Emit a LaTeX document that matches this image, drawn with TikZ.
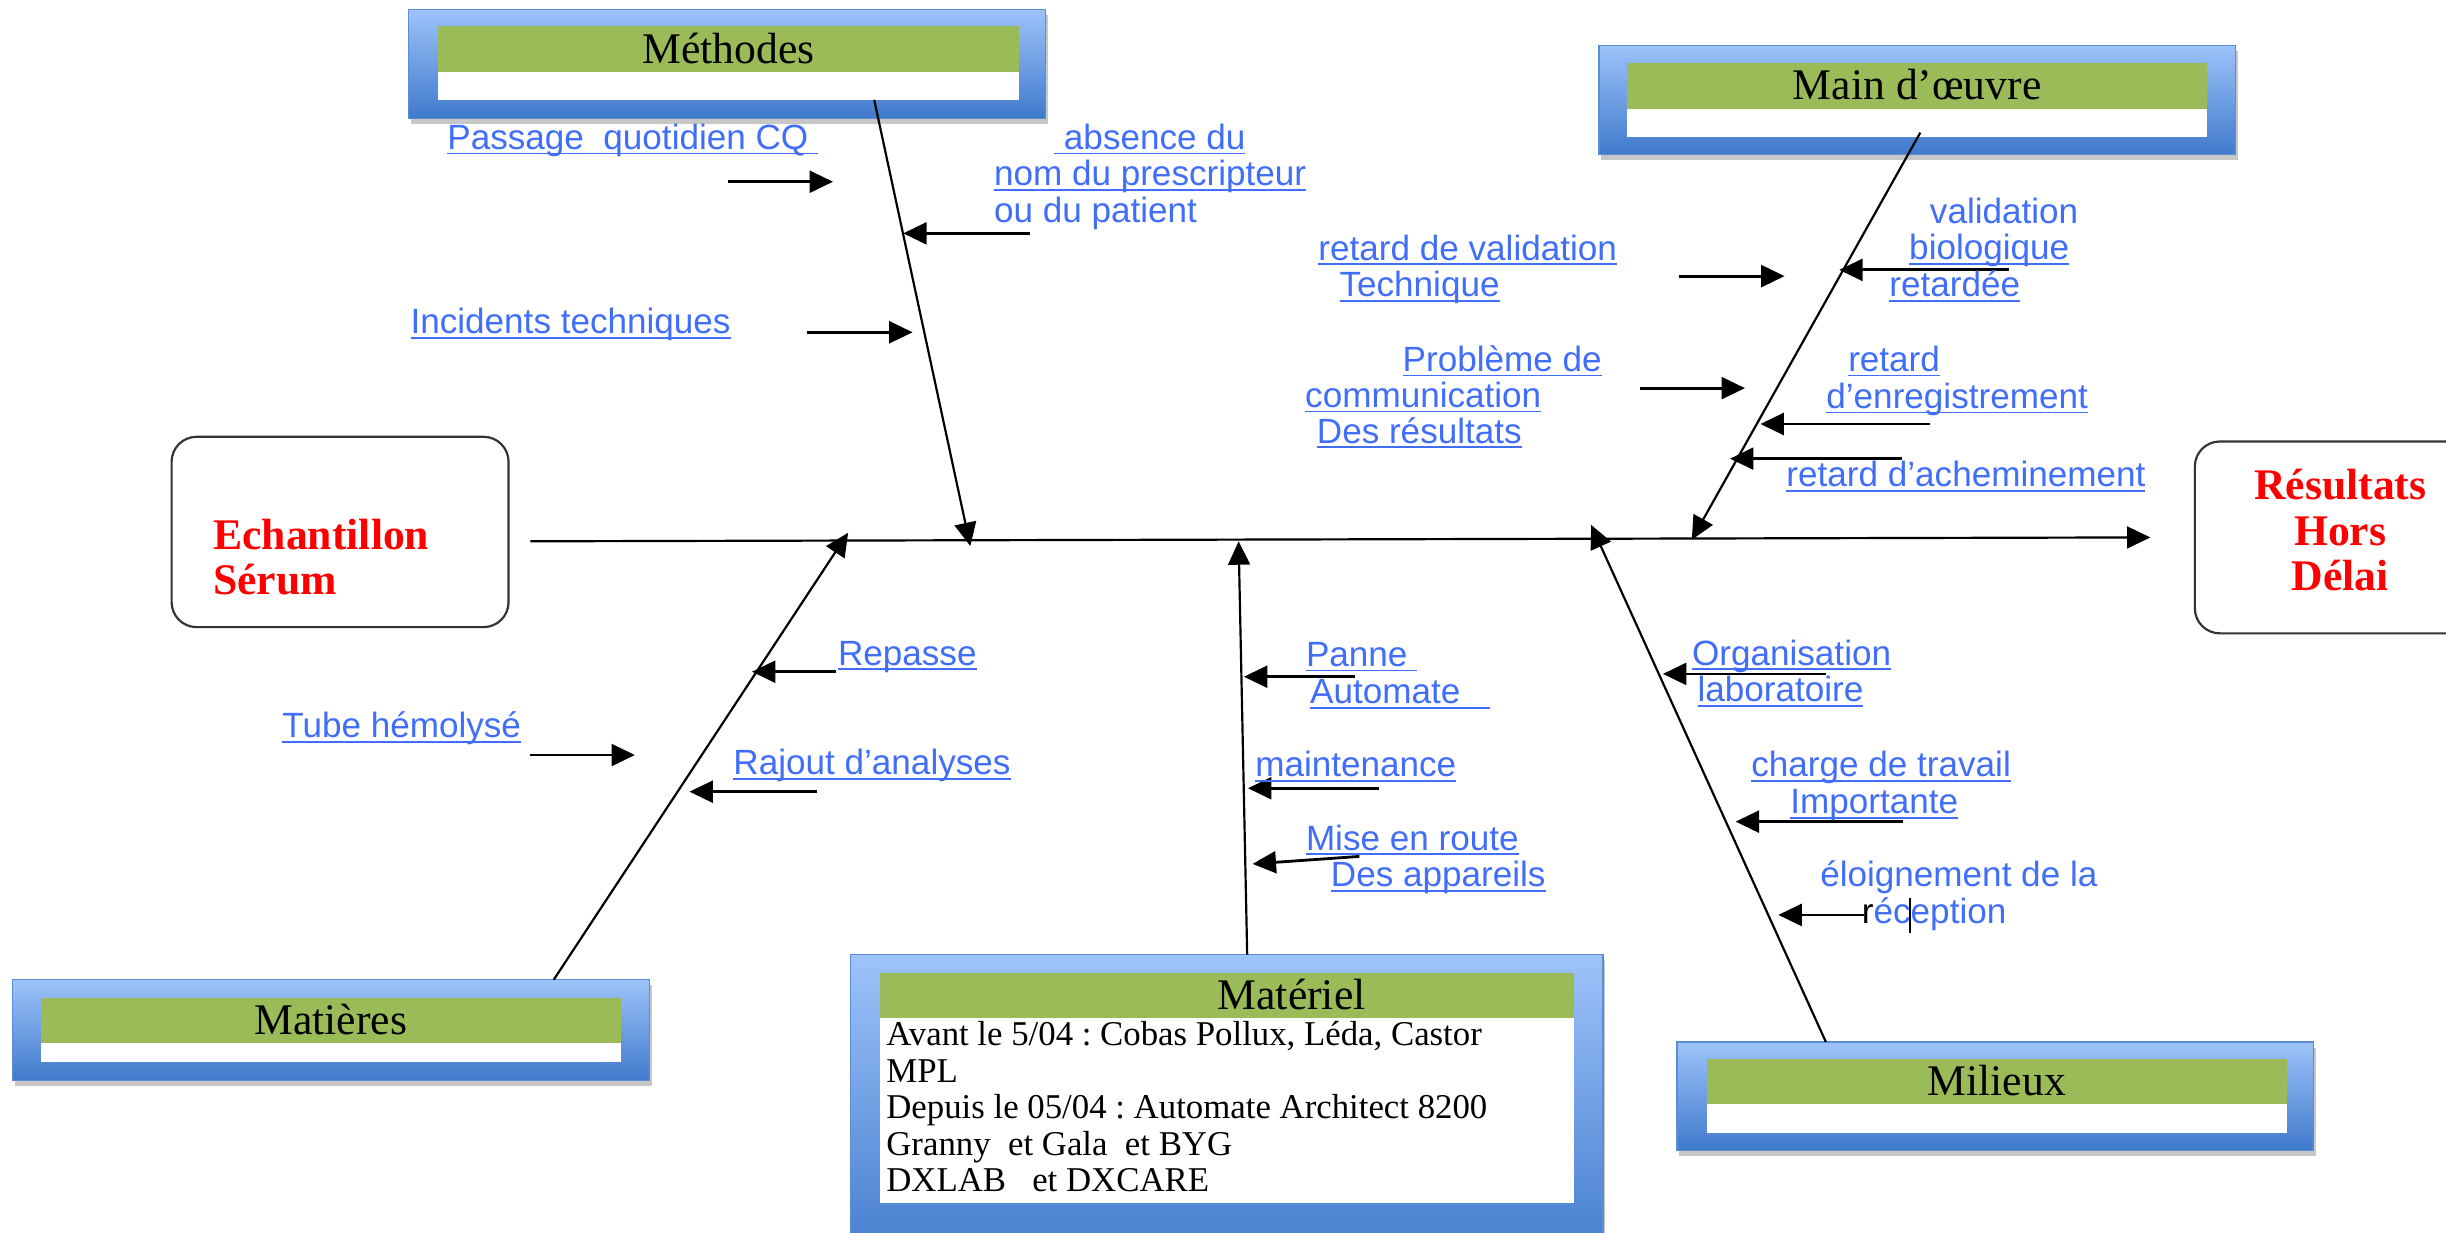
\documentclass[tikz,border=0pt]{standalone}
\usepackage{fontspec}
\setmainfont{Liberation Serif}
\newfontfamily\arial{Liberation Sans}
\usetikzlibrary{arrows.meta}
\frenchspacing

\definecolor{lnkblue}{RGB}{64,110,250}
\definecolor{hdgreen}{RGB}{155,187,89}
\definecolor{frTop}{RGB}{157,195,250}
\definecolor{frBot}{RGB}{64,122,204}
\definecolor{frEdge}{RGB}{92,140,210}
\definecolor{alert}{RGB}{255,0,0}

% underlined text, the rule keeps the current colour
\newcommand\ul[1]{\setbox0=\hbox{#1}\rlap{\rule[-3.3pt]{\wd0}{1.1pt}}\box0}
% stacked lines, baseline of the block = baseline of its first line
\newcommand\lines[2]{\vtop{\baselineskip=#1\lineskiplimit=-30pt\lineskip=0pt #2}}
% category frame: outer x1,y1,x2,y2 ; inner x1,y1,x2 ; green bottom ; white bottom
\newcommand\catbox[9]{%
  \fill[black!22] (#1+1.5,#2+3.5) rectangle (#3+1.5,#4+3.5);
  \shade[top color=frTop, bottom color=frBot] (#1,#2) rectangle (#3,#4);
  \draw[frEdge, line width=0.8pt] (#1,#2) rectangle (#3,#4);
  \fill[white] (#5,#6) rectangle (#7,#9);
  \fill[hdgreen] (#5,#6) rectangle (#7,#8);
}
% small cause arrow between two named coordinates
\newcommand\twig[3]{\coordinate (#1-s) at (#2); \coordinate (#1-e) at (#3); \draw[twig] (#1-s) -- (#1-e);}

\begin{document}
\begin{tikzpicture}[x=1pt,y=-1pt,
  bone/.style={line width=1.4pt, -{Triangle[length=15pt,width=14pt]}},
  twig/.style={line width=1.8pt, -{Triangle[length=15pt,width=14pt]}},
  lbl/.style={anchor=base west, inner sep=0pt, text=lnkblue, font=\arial\fontsize{22.5}{23.5}\selectfont},
  ttl/.style={anchor=base, inner sep=0pt, font=\fontsize{28}{29}\selectfont},
  effect/.style={anchor=base west, inner sep=0pt, text=alert, font=\bfseries\fontsize{28}{29}\selectfont},
  endbox/.style={draw=black!80, line width=1.4pt, rounded corners=16pt, inner sep=0pt},
]
\useasboundingbox (0,0) rectangle (1568,790);
\clip (0,0) rectangle (1568,790);

% category frames
\catbox{262}{6}{670}{76}{281}{16.7}{653}{46}{64}
\catbox{1025}{29}{1433}{99}{1043}{40.5}{1415}{70}{88}
\catbox{8}{628}{416.5}{692.7}{26.6}{639.5}{398}{668.6}{681}
\catbox{1075}{668}{1483}{737.6}{1094}{679}{1466}{708}{726}
\catbox{545}{612}{1027.6}{815}{564}{624}{1009}{652.6}{771}

\node[ttl] (h-meth) at (467,40.5) {Méthodes};
\node[ttl] (h-main) at (1229,64) {Main d’œuvre};
\node[ttl] (h-mat) at (212,663) {Matières};
\node[ttl] (h-mil) at (1280,702.5) {Milieux};
\node[ttl] (h-mtl) at (828,647) {Matériel};

\node[anchor=base west, inner sep=0pt, font=\fontsize{22.3}{23.3}\selectfont] (mtl-txt) at (568,670.5)
  {\lines{23.35pt}{\hbox{Avant le 5/04 : Cobas Pollux, Léda, Castor}\hbox{MPL}%
   \hbox{Depuis le 05/04 : Automate Architect 8200}\hbox{Granny\ \ et Gala\ \ et BYG}\hbox{DXLAB\ \ \ et DXCARE}}};

% source and effect boxes
\node[endbox, minimum width=216pt, minimum height=122pt] (src) at (218,341) {};
\node[endbox, minimum width=193pt, minimum height=123pt] (eff) at (1503.5,344.5) {};
\node[effect] (src-txt) at (136.5,352) {\lines{29pt}{\hbox{Echantillon}\hbox{Sérum}}};
\node[effect] (eff-txt) at (1440,320.5) {\lines{29pt}{\hbox to 120pt{\hss Résultats\hss}\hbox to 120pt{\hss Hors\hss}\hbox to 120pt{\hss Délai\hss}}};

% spine
\coordinate (sp-s) at (340,347);
\coordinate (sp-e) at (1378.5,344.5);
\draw[bone] (sp-s) -- (sp-e);

% main bones
\coordinate (b-meth-s) at (560.4,64);   \coordinate (b-meth-e) at (622,350);
\coordinate (b-main-s) at (1231,85);    \coordinate (b-main-e) at (1084.5,346);
\coordinate (b-mat-s) at (355,628);     \coordinate (b-mat-e) at (543.7,341.5);
\coordinate (b-mtl-s) at (799.5,612);   \coordinate (b-mtl-e) at (794,347);
\coordinate (b-mil-s) at (1170.5,668);  \coordinate (b-mil-e) at (1020,336.5);
\draw[bone] (b-meth-s) -- (b-meth-e);
\draw[bone] (b-main-s) -- (b-main-e);
\draw[bone] (b-mat-s) -- (b-mat-e);
\draw[bone] (b-mtl-s) -- (b-mtl-e);
\draw[bone] (b-mil-s) -- (b-mil-e);

% cause arrows
\twig{a1}{466.7,116.5}{534,116.5}
\twig{a2}{660,149.6}{579,149.6}
\twig{a3}{517,213}{585,213}
\twig{a4}{1076,177}{1144,177}
\twig{a5}{1288,173}{1179,173}
\twig{a6}{1051,248.8}{1118.6,248.8}
\twig{a7}{1237,271.8}{1128.5,271.8}
\twig{a8}{1219,294}{1109,294}
\twig{a9}{536,430.6}{482,430.6}
\twig{a10}{339.5,484}{407,484}
\twig{a11}{524,507.5}{442,507.5}
\twig{a12}{868.6,433.8}{797.4,433.8}
\twig{a13}{884,505.3}{800,505.3}
\twig{a14}{871.4,549}{803,553.8}
\twig{a15}{1170.5,432}{1066,432}
\twig{a16}{1219.6,526.7}{1112.6,526.7}
\twig{a17}{1195,586.5}{1140,586.5}

% cause labels
\node[lbl] (l-cq) at (286.6,95.7) {\ul{Passage\ \ quotidien CQ\ }};
\node[lbl] (l-abs) at (637,95.7) {\lines{23.5pt}{\hbox{\hskip38.6pt\ul{\ absence du}}\hbox{\ul{nom du prescripteur}}\hbox{ou du patient}}};
\node[lbl] (l-inc) at (263,214) {\ul{Incidents techniques}};
\node[lbl] (l-rvt) at (845,166.7) {\lines{23.3pt}{\hbox{\ul{retard de validation}}\hbox{\hskip13.5pt\ul{Technique}}}};
\node[lbl] (l-vb) at (1211,143) {\lines{23.6pt}{\hbox{\hskip26pt validation}\hbox{\hskip12.7pt\ul{biologique}}\hbox{\ul{retardée}}}};
\node[lbl] (l-com) at (836.5,238) {\lines{23pt}{\hbox{\hskip62.5pt\ul{Problème de}}\hbox{\ul{communication}}\hbox{\hskip7.5pt\ul{Des résultats}}}};
\node[lbl] (l-enr) at (1170.6,238) {\lines{23.7pt}{\hbox{\hskip14pt\ul{retard}}\hbox{\ul{d’enregistrement}}}};
\node[lbl] (l-ach) at (1145,312) {\ul{retard d’acheminement}};
\node[lbl] (l-rep) at (537,426.3) {\ul{Repasse}};
\node[lbl] (l-tube) at (180.8,473) {\ul{Tube hémolysé}};
\node[lbl] (l-raj) at (470,496.8) {\ul{Rajout d’analyses}};
\node[lbl] (l-pan) at (837,427) {\lines{23.9pt}{\hbox{\ul{Panne\ }}\hbox{\hskip2.7pt\ul{Automate\ \ \ }}}};
\node[lbl] (l-mnt) at (804.5,497.9) {\ul{maintenance}};
\node[lbl] (l-mise) at (837,544.9) {\lines{23.5pt}{\hbox{\ul{Mise en route}}\hbox{\hskip16pt\ul{Des appareils}}}};
\node[lbl] (l-org) at (1084.5,426.3) {\lines{23.5pt}{\hbox{\ul{Organisation}}\hbox{\hskip3.5pt\ul{laboratoire}}}};
\node[lbl] (l-chg) at (1122.5,497.9) {\lines{23.5pt}{\hbox{\ul{charge de travail}}\hbox{\hskip25pt\ul{Importante}}}};
\node[lbl] (l-elo) at (1166.7,568.4) {\lines{23.5pt}{\hbox{éloignement de la}\hbox{\hskip26.7pt{\color{black}r}éception}}};
\draw[black, line width=0.9pt] (1224.5,575.7) -- (1224.5,598);

\end{tikzpicture}
\end{document}
